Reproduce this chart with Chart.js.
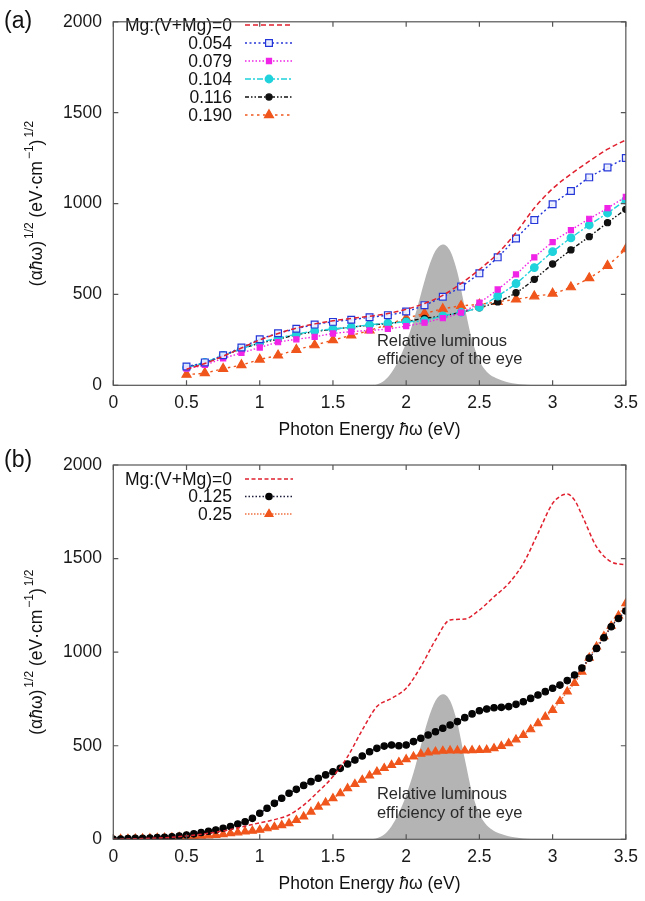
<!DOCTYPE html>
<html><head><meta charset="utf-8">
<script src="https://cdn.jsdelivr.net/npm/chart.js@4.4.1/dist/chart.umd.min.js"></script>
<style>
html,body{margin:0;padding:0;background:#fff;}
.wrap{position:absolute;left:0;width:645px;}
#wa{top:0;height:440px;}
#wb{top:440px;height:461px;}
canvas{display:block;}
</style></head>
<body>
<div class="wrap" id="wa"><canvas id="ca" width="645" height="440"></canvas></div>
<div class="wrap" id="wb"><canvas id="cb" width="645" height="461"></canvas></div>
<script>
// ---------- DATA ----------
const xTicks = [0, 0.5, 1, 1.5, 2, 2.5, 3, 3.5];
const yTicks = [0, 500, 1000, 1500, 2000];

// relative luminous efficiency of the eye (scaled)
const lumE = [1.75,1.8,1.85,1.9,1.95,2.0,2.05,2.1,2.15,2.2,2.25,2.3,2.35,2.4,2.45,2.5,2.55,2.6,2.65,2.7,2.75,2.8,2.85,2.9];
const lumV = [0,5,25,70,140,235,355,500,640,740,775,740,620,430,250,135,75,45,28,16,9,4,1,0];

// panel (a)
const energyA = [0.5,0.625,0.75,0.875,1.0,1.125,1.25,1.375,1.5,1.625,1.75,1.875,2.0,2.125,2.25,2.375,2.5,2.625,2.75,2.875,3.0,3.125,3.25,3.375,3.5];
const a_mg0   = [88,120,160,205,250,285,315,338,355,368,380,395,418,450,495,560,637,725,840,975,1082,1162,1233,1299,1350];
const a_mg054 = [103,126,165,208,253,286,311,334,349,361,374,386,406,441,487,543,616,704,808,909,996,1069,1144,1199,1251];
const a_mg079 = [92,112,148,178,208,237,253,267,285,295,302,310,326,345,370,400,455,527,610,704,788,854,916,975,1037];
const a_mg104 = [98,126,165,201,235,260,281,299,310,320,333,342,349,356,382,402,430,491,560,648,735,811,882,948,1019];
const a_mg116 = [98,123,162,201,231,254,278,295,308,320,331,340,352,368,382,402,427,459,509,583,667,745,818,895,968];
const a_mg190 = [59,68,91,112,142,165,196,221,249,275,302,335,368,395,420,437,445,460,473,490,505,540,590,658,749];
const labelsA = ['Mg:(V+Mg)=0','0.054','0.079','0.104','0.116','0.190'];

// panel (b)
const energyB0 = [0,0.1,0.2,0.3,0.4,0.5,0.6,0.7,0.8,0.9,1.0,1.1,1.2,1.3,1.4,1.5,1.6,1.7,1.8,1.9,2.0,2.1,2.2,2.3,2.4,2.5,2.6,2.7,2.8,2.9,3.0,3.05,3.1,3.15,3.2,3.3,3.4,3.5];
const b_mg0 = [0,2,4,7,11,18,27,38,52,70,88,105,130,183,255,335,442,584,709,753,807,922,1065,1172,1177,1225,1296,1367,1474,1635,1795,1832,1845,1812,1733,1563,1483,1467];
const energyB = [0,0.05,0.1,0.15,0.2,0.25,0.3,0.35,0.4,0.45,0.5,0.55,0.6,0.65,0.7,0.75,0.8,0.85,0.9,0.95,1.0,1.05,1.1,1.15,1.2,1.25,1.3,1.35,1.4,1.45,1.5,1.55,1.6,1.65,1.7,1.75,1.8,1.85,1.9,1.95,2.0,2.05,2.1,2.15,2.2,2.25,2.3,2.35,2.4,2.45,2.5,2.55,2.6,2.65,2.7,2.75,2.8,2.85,2.9,2.95,3.0,3.05,3.1,3.15,3.2,3.25,3.3,3.35,3.4,3.45,3.5];
const b_mg125 = [0,2,4,5,6,7,9,11,14,18,23,29,36,43,50,59,68,82,94,112,139,166,192,219,246,267,288,308,326,344,361,379,402,424,445,468,486,498,504,500,504,522,540,557,575,593,611,629,650,670,687,696,703,705,709,721,735,753,771,789,807,824,848,878,915,968,1020,1077,1136,1180,1220];
const b_mg25 = [0,1,2,3,4,5,7,8,10,12,14,16,18,20,23,27,32,36,41,45,50,58,66,75,85,102,121,147,174,196,219,245,272,295,317,340,361,380,397,412,427,442,456,463,468,472,474,474,474,475,476,478,486,498,513,533,557,587,620,654,691,738,789,835,895,970,1030,1085,1140,1195,1261];
const labelsB = ['Mg:(V+Mg)=0','0.125','0.25'];

// ---------- HELPERS ----------
const FONT = '"Liberation Sans", Arial, Helvetica, sans-serif';
const pts = (xs, ys) => xs.map((x, i) => ({x: x, y: ys[i]}));

function lumDataset() {
  return {label: '', data: pts(lumE, lumV), showLine: true, fill: 'origin',
    backgroundColor: '#b4b4b4', borderWidth: 0, pointRadius: 0, tension: 0.4,
    cubicInterpolationMode: 'monotone', order: 10, noLegend: true};
}
function series(label, xs, ys, color, dash, ps, pr, bg, lw, pbc) {
  return {label: label, data: pts(xs, ys), showLine: true, borderColor: color,
    borderWidth: lw || 1.4, borderDash: dash, pointStyle: ps, pointRadius: pr,
    pointBackgroundColor: bg || color, pointBorderColor: pbc || color, pointBorderWidth: 1.2,
    backgroundColor: bg || color,
    cubicInterpolationMode: 'monotone', fill: false, order: 1};
}

const framePlugin = {
  id: 'frame',
  afterDraw(chart) {
    const o = chart.options.plugins.frame;
    const ctx = chart.ctx, a = chart.chartArea;
    const xs = chart.scales.x, ys = chart.scales.y;
    ctx.save();
    // border
    ctx.strokeStyle = '#555'; ctx.lineWidth = 1.2; ctx.setLineDash([]);
    ctx.strokeRect(a.left, a.top, a.right - a.left, a.bottom - a.top);
    // inward ticks
    const tl = 5;
    ctx.beginPath();
    xTicks.forEach(v => {
      const px = xs.getPixelForValue(v);
      ctx.moveTo(px, a.bottom); ctx.lineTo(px, a.bottom - tl);
      ctx.moveTo(px, a.top); ctx.lineTo(px, a.top + tl);
    });
    yTicks.forEach(v => {
      const py = ys.getPixelForValue(v);
      ctx.moveTo(a.left, py); ctx.lineTo(a.left + tl, py);
      ctx.moveTo(a.right, py); ctx.lineTo(a.right - tl, py);
    });
    ctx.stroke();

    // panel label
    ctx.fillStyle = '#111';
    ctx.font = '23px ' + FONT;
    ctx.textAlign = 'left'; ctx.textBaseline = 'alphabetic';
    ctx.fillText(o.panel, 4, o.panelY);

    // x title
    const base = a.bottom + 50;
    const p1 = 'Photon Energy ', p2 = 'ħ', p3 = 'ω (eV)';
    ctx.font = '17.5px ' + FONT; const w1 = ctx.measureText(p1).width;
    ctx.font = 'italic 17.5px ' + FONT; const w2 = ctx.measureText(p2).width;
    ctx.font = '17.5px ' + FONT; const w3 = ctx.measureText(p3).width;
    let x0 = (a.left + a.right) / 2 - (w1 + w2 + w3) / 2;
    ctx.font = '17.5px ' + FONT; ctx.fillText(p1, x0, base);
    ctx.font = 'italic 17.5px ' + FONT; ctx.fillText(p2, x0 + w1, base);
    ctx.font = '17.5px ' + FONT; ctx.fillText(p3, x0 + w1 + w2, base);

    // y title (rotated)
    const parts = [['(α', 0, 'n'], ['ħ', 0, 'i'], ['ω)', 0, 'n'], ['1/2', 1, 'n'], [' (eV·cm', 0, 'n'], ['−1', 1, 'n'], [')', 0, 'n'], ['1/2', 1, 'n']];
    const fontOf = p => (p[2] === 'i' ? 'italic ' : '') + (p[1] ? '12px ' : '17.5px ') + FONT;
    let tw = 0;
    parts.forEach(p => { ctx.font = fontOf(p); tw += ctx.measureText(p[0]).width + (p[1] ? 2 : 0); });
    ctx.translate(42, (a.top + a.bottom) / 2 + o.yTitleShift);
    ctx.rotate(-Math.PI / 2);
    let cx = -tw / 2;
    parts.forEach(p => {
      ctx.font = fontOf(p);
      if (p[1]) cx += 2;
      ctx.fillText(p[0], cx, p[1] ? -9 : 0);
      cx += ctx.measureText(p[0]).width;
    });
    ctx.restore();
  },
  afterDatasetsDraw(chart) {
    const o = chart.options.plugins.frame;
    const ctx = chart.ctx;
    const xs = chart.scales.x, ys = chart.scales.y;
    ctx.save();
    // annotation text
    ctx.fillStyle = '#2a2a2a';
    ctx.font = '16.5px ' + FONT;
    ctx.textAlign = 'left'; ctx.textBaseline = 'middle';
    const tx = xs.getPixelForValue(1.8);
    ctx.fillText('Relative luminous', tx, ys.getPixelForValue(o.noteY[0]));
    ctx.fillText('efficiency of the eye', tx, ys.getPixelForValue(o.noteY[1]));

    // legend
    let i = 0;
    chart.data.datasets.forEach(ds => {
      if (ds.noLegend) return;
      const y = o.legTop + i * o.legStep;
      ctx.fillStyle = '#111';
      ctx.font = '17.5px ' + FONT;
      ctx.textAlign = 'right'; ctx.textBaseline = 'middle';
      ctx.fillText(ds.label, 232, y + 1);
      ctx.strokeStyle = ds.borderColor; ctx.lineWidth = ds.borderWidth;
      ctx.setLineDash(ds.borderDash || []);
      ctx.beginPath(); ctx.moveTo(245, y); ctx.lineTo(293, y); ctx.stroke();
      ctx.setLineDash([]);
      if (ds.pointRadius > 0) {
        ctx.fillStyle = ds.pointBackgroundColor; ctx.strokeStyle = ds.pointBorderColor;
        ctx.lineWidth = ds.pointBorderWidth;
        Chart.helpers.drawPoint(ctx, {pointStyle: ds.pointStyle, radius: ds.pointRadius, rotation: 0, borderWidth: ds.pointBorderWidth}, 269, y);
      }
      i++;
    });
    ctx.restore();
  }
};

function makeOptions(xAxisH, padTop, frameOpts) {
  return {
    responsive: false, animation: false,
    layout: {padding: {top: padTop, right: 15.7, left: 0, bottom: 0}},
    plugins: {legend: {display: false}, tooltip: {enabled: false}, frame: frameOpts},
    elements: {line: {tension: 0}},
    scales: {
      x: {type: 'linear', min: 0, max: 3.5,
        grid: {display: false, drawTicks: false}, border: {display: false},
        afterBuildTicks: s => { s.ticks = xTicks.map(v => ({value: v})); },
        afterFit: s => { s.height = xAxisH; },
        ticks: {padding: 7, color: '#1a1a1a', font: {size: 17.5, family: FONT}, maxRotation: 0,
          callback: v => String(v)}},
      y: {type: 'linear', min: 0, max: 2000,
        grid: {display: false, drawTicks: false}, border: {display: false},
        afterBuildTicks: s => { s.ticks = yTicks.map(v => ({value: v})); },
        afterFit: s => { s.width = 113.3; },
        ticks: {padding: 11.3, color: '#1a1a1a', font: {size: 17.5, family: FONT},
          callback: v => String(v)}}
    }
  };
}

// ---------- CHART (a) ----------
new Chart(document.getElementById('ca'), {
  type: 'line',
  data: {datasets: [
    series(labelsA[0], energyA, a_mg0, '#e0202e', [5, 3], 'circle', 0, null, 1.5),
    series(labelsA[1], energyA, a_mg054, '#2436d8', [2, 2.5], 'rect', 4.8, 'rgba(235,240,255,0.9)'),
    series(labelsA[2], energyA, a_mg079, '#f024e6', [1.5, 2], 'rect', 3.6),
    series(labelsA[3], energyA, a_mg104, '#1fd2dc', [6, 2, 2, 2], 'circle', 3.8),
    series(labelsA[4], energyA, a_mg116, '#111111', [4, 2, 1.5, 2, 1.5, 2], 'circle', 3.1),
    series(labelsA[5], energyA, a_mg190, '#f0561c', [2.5, 3.5], 'triangle', 5.2),
    lumDataset()
  ]},
  options: makeOptions(54.7, 12.7, {panel: '(a)', panelY: 28, yTitleShift: 0, noteY: [242, 140], legTop: 25, legStep: 18}),
  plugins: [framePlugin]
});

// ---------- CHART (b) ----------
new Chart(document.getElementById('cb'), {
  type: 'line',
  data: {datasets: [
    series(labelsB[0], energyB0, b_mg0, '#e0202e', [4, 2.5], 'circle', 0, null, 1.5),
    series(labelsB[1], energyB, b_mg125, '#1b1b3a', [1.5, 2], 'circle', 3.2, '#050505', 1.4, '#050505'),
    series(labelsB[2], energyB, b_mg25, '#f07040', [1.5, 1.5], 'triangle', 4.6, '#f0561c', 1.4, '#f0561c'),
    lumDataset()
  ]},
  options: makeOptions(61.7, 25, {panel: '(b)', panelY: 27, yTitleShift: 0, noteY: [237, 140], legTop: 39, legStep: 17.5}),
  plugins: [framePlugin]
});
</script>
</body></html>
